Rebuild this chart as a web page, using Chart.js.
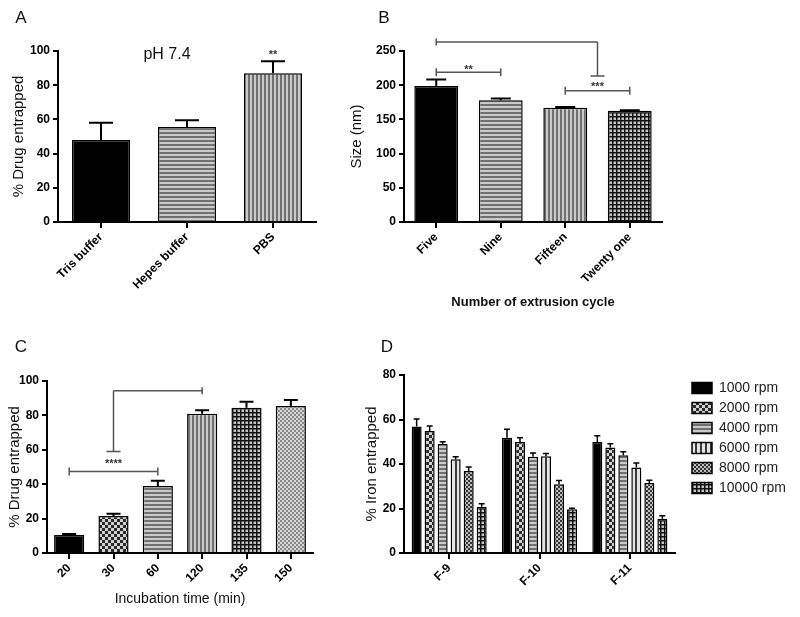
<!DOCTYPE html>
<html><head><meta charset="utf-8">
<script src="https://cdn.jsdelivr.net/npm/chart.js@4.4.1/dist/chart.umd.min.js"></script>
<style>
html,body{margin:0;padding:0;background:#fff;}
#wrap{position:relative;width:800px;height:617px;background:#fff;}
#wrap canvas{position:absolute;left:0;top:0;width:800px;height:617px;}
</style></head><body>
<div id="wrap">
<canvas id="cA" width="800" height="617"></canvas>
<canvas id="cB" width="800" height="617"></canvas>
<canvas id="cC" width="800" height="617"></canvas>
<canvas id="cD" width="800" height="617"></canvas>
</div>
<script>
// ---------- Data ----------
const catsA = ['Tris buffer', 'Hepes buffer', 'PBS'];
const valsA = [48, 55.5, 87];
const errA  = [10, 4, 7];
const ticksA = [0, 20, 40, 60, 80, 100];

const catsB = ['Five', 'Nine', 'Fifteen', 'Twenty one'];
const valsB = [199, 178, 167, 162.5];
const errB  = [9.5, 2.5, 1, 1];
const ticksB = [0, 50, 100, 150, 200, 250];

const catsC = ['20', '30', '60', '120', '135', '150'];
const valsC = [10.5, 21.5, 39, 81, 84.5, 85.5];
const errC  = [0.6, 1.3, 3, 2, 3.5, 3.5];
const ticksC = [0, 20, 40, 60, 80, 100];

const catsD = ['F-9', 'F-10', 'F-11'];
const rpmLabels = ['1000 rpm', '2000 rpm', '4000 rpm', '6000 rpm', '8000 rpm', '10000 rpm'];
const rpm1000  = [56.8, 51.8, 49.9];  const err1000  = [3.4, 3.8, 2.8];
const rpm2000  = [54.8, 49.9, 47.4];  const err2000  = [2.3, 1.9, 1.7];
const rpm4000  = [49.0, 43.3, 43.9];  const err4000  = [1.0, 1.7, 1.6];
const rpm6000  = [42.1, 43.5, 38.4];  const err6000  = [1.2, 1.2, 2.1];
const rpm8000  = [36.8, 30.9, 31.5];  const err8000  = [1.8, 1.7, 1.2];
const rpm10000 = [20.8, 19.7, 15.4];  const err10000 = [1.3, 0.4, 1.3];
const ticksD = [0, 20, 40, 60, 80];

// significance annotations (category index / value units)
const bracketsA = [{ type: 'label', x: 2, labelY: 99.6, label: '**' }];
const bracketsB = [
  { type: 'bar', from: 0, to: 1, y: 219, labelY: 227, label: '**' },
  { type: 'bar', from: 2, to: 3, y: 192, labelY: 202, label: '***' },
  { type: 'drop', from: 0, to: 2.5, y: 263, dropTo: 213.5 }
];
const bracketsC = [
  { type: 'bar', from: 0, to: 2, y: 47.4, labelY: 53.7, label: '****' },
  { type: 'drop', from: 3, to: 1, y: 94.4, dropTo: 59 }
];

// ---------- Helpers ----------
const FONT = "'Liberation Sans', Arial, Helvetica, sans-serif";
Chart.defaults.font.family = FONT;
Chart.defaults.color = '#000';

function pattern(kind) {
  if (kind === 'solid') return '#000';
  const t = document.createElement('canvas');
  const g = t.getContext('2d');
  let s = 4;
  if (kind === 'checker') s = 6;
  if (kind === 'vwide') s = 5;
  t.width = s; t.height = s;
  switch (kind) {
    case 'hstripe':
      g.fillStyle = '#cacaca'; g.fillRect(0, 0, s, s);
      g.fillStyle = '#707070'; g.fillRect(0, 0, s, 2); break;
    case 'vstripe':
      g.fillStyle = '#cacaca'; g.fillRect(0, 0, s, s);
      g.fillStyle = '#707070'; g.fillRect(0, 0, 2, s); break;
    case 'grid':
      g.fillStyle = '#c6c6c6'; g.fillRect(0, 0, s, s);
      g.fillStyle = '#111'; g.fillRect(0, 0, s, 1.5); g.fillRect(0, 0, 1.5, s); break;
    case 'checker':
      g.fillStyle = '#d2d2d2'; g.fillRect(0, 0, s, s);
      g.fillStyle = '#2a2a2a'; g.fillRect(0, 0, 3, 3); g.fillRect(3, 3, 3, 3); break;
    case 'fine':
      g.fillStyle = '#d6d6d6'; g.fillRect(0, 0, s, s);
      g.fillStyle = '#8a8a8a'; g.fillRect(0, 0, 2, 2); g.fillRect(2, 2, 2, 2); break;
    case 'fineDark':
      g.fillStyle = '#c0c0c0'; g.fillRect(0, 0, s, s);
      g.fillStyle = '#333'; g.fillRect(0, 0, 2, 2); g.fillRect(2, 2, 2, 2); break;
    case 'vwide':
      g.fillStyle = '#e4e4e4'; g.fillRect(0, 0, s, s);
      g.fillStyle = '#3a3a3a'; g.fillRect(0, 0, 2, s); break;
  }
  return document.createElement('canvas').getContext('2d').createPattern(t, 'repeat');
}

const tickFont = { family: FONT, size: 12, weight: 'bold' };

function yAxis(max, tickVals, title, width) {
  return {
    min: 0, max: max,
    afterBuildTicks(s) { s.ticks = tickVals.map(v => ({ value: v })); },
    ticks: { color: '#000', font: tickFont, padding: 3 },
    grid: { display: true, drawOnChartArea: false, drawTicks: true, tickLength: 5, color: '#000', lineWidth: 2 },
    border: { display: true, color: '#000', width: 2 },
    title: { display: true, text: title, color: '#111', font: { family: FONT, size: 15 }, padding: 0 },
    afterFit(s) { s.width = width; }
  };
}
function xAxis(height, title) {
  return {
    offset: true,
    ticks: { color: '#000', font: tickFont, minRotation: 45, maxRotation: 45, padding: 2, autoSkip: false },
    grid: { display: true, offset: false, drawOnChartArea: false, drawTicks: true, tickLength: 6, color: '#000', lineWidth: 2 },
    border: { display: true, color: '#000', width: 2 },
    title: title || { display: false },
    afterFit(s) { s.height = height; }
  };
}

const errorBars = {
  id: 'errorBars',
  afterDatasetsDraw(chart, args, opts) {
    const ctx = chart.ctx, ys = chart.scales.y;
    chart.data.datasets.forEach((ds, i) => {
      if (!ds.errors) return;
      const meta = chart.getDatasetMeta(i);
      meta.data.forEach((bar, j) => {
        const v = ds.data[j], e = ds.errors[j];
        const x = bar.x, y0 = ys.getPixelForValue(v), y1 = ys.getPixelForValue(v + e);
        ctx.save();
        ctx.strokeStyle = '#000'; ctx.lineWidth = opts.width || 2;
        ctx.beginPath();
        ctx.moveTo(x, y0); ctx.lineTo(x, y1);
        ctx.moveTo(x - opts.cap, y1); ctx.lineTo(x + opts.cap, y1);
        ctx.stroke(); ctx.restore();
      });
    });
  }
};

const brackets = {
  id: 'brackets',
  afterDraw(chart, args, opts) {
    const list = opts.items || [];
    const ctx = chart.ctx, xs = chart.scales.x, ys = chart.scales.y;
    ctx.save();
    ctx.strokeStyle = '#555'; ctx.lineWidth = 1.5;
    const starSize = 11;
    const drawStar = (x, vy, txt) => {
      ctx.fillStyle = '#333';
      ctx.font = 'bold ' + starSize + 'px ' + FONT;
      ctx.textAlign = 'center'; ctx.textBaseline = 'alphabetic';
      ctx.fillText(txt, x, ys.getPixelForValue(vy) + 0.56 * starSize);
    };
    list.forEach(b => {
      if (b.type === 'label') { drawStar(xs.getPixelForValue(b.x), b.labelY, b.label); return; }
      const x1 = xs.getPixelForValue(b.from), x2 = xs.getPixelForValue(b.to);
      const y = ys.getPixelForValue(b.y);
      ctx.beginPath();
      ctx.moveTo(x1, y); ctx.lineTo(x2, y);
      if (b.type === 'bar') {
        ctx.moveTo(x1, y - 4); ctx.lineTo(x1, y + 4);
        ctx.moveTo(x2, y - 4); ctx.lineTo(x2, y + 4);
      } else {
        const yd = ys.getPixelForValue(b.dropTo);
        ctx.moveTo(x1, y - 3.5); ctx.lineTo(x1, y + 3.5);
        ctx.moveTo(x2, y); ctx.lineTo(x2, yd);
        ctx.moveTo(x2 - 7, yd); ctx.lineTo(x2 + 7, yd);
      }
      ctx.stroke();
      if (b.label) drawStar((x1 + x2) / 2, b.labelY, b.label);
    });
    ctx.restore();
  }
};

const texts = {
  id: 'texts',
  afterDraw(chart, args, opts) {
    const ctx = chart.ctx;
    (opts.items || []).forEach(t => {
      ctx.save();
      ctx.fillStyle = t.color || '#111';
      ctx.font = t.font;
      ctx.textAlign = 'center'; ctx.textBaseline = 'middle';
      ctx.fillText(t.text, t.x, t.y);
      ctx.restore();
    });
  }
};

const LEG_W = 110;
const legendFix = {
  id: 'legendFix',
  beforeLayout(chart) {
    const lg = chart.legend;
    if (lg && !lg._patched) {
      const f = lg.fit;
      lg.fit = function () { f.call(this); this.width = LEG_W; };
      lg._patched = true;
    }
  },
  afterLayout(chart) {
    const lg = chart.legend;
    if (lg) { lg.left += 11; lg.right += 11; }
  }
};

function baseOpts(pad) {
  return {
    responsive: false, animation: false, events: [],
    layout: { padding: pad },
    plugins: { legend: { display: false }, tooltip: { enabled: false } }
  };
}

// ---------- Panel A ----------
const ctxA = document.getElementById('cA').getContext('2d');
const optA = baseOpts({ left: 10, top: 51, right: 484, bottom: 0 });
optA.scales = { x: xAxis(395), y: yAxis(100, ticksA, '% Drug entrapped', 48) };
optA.plugins.errorBars = { cap: 12 };
optA.plugins.brackets = { items: bracketsA };
optA.plugins.texts = { items: [
  { text: 'A', x: 21, y: 18, font: '17px ' + FONT },
  { text: 'pH 7.4', x: 167, y: 55, font: '16px ' + FONT }
] };
new Chart(ctxA, {
  type: 'bar',
  data: { labels: catsA, datasets: [{
    data: valsA, errors: errA,
    backgroundColor: ['solid', 'hstripe', 'vstripe'].map(pattern),
    borderColor: '#000', borderWidth: 1.5,
    categoryPercentage: 1, barPercentage: 0.675
  }] },
  options: optA,
  plugins: [errorBars, brackets, texts]
});

// ---------- Panel B ----------
const ctxB = document.getElementById('cB').getContext('2d');
const optB = baseOpts({ left: 348, top: 51, right: 138, bottom: 307 });
optB.scales = {
  x: xAxis(88, { display: true, text: 'Number of extrusion cycle', color: '#111', font: { family: FONT, size: 13, weight: 'bold' }, padding: 0 }),
  y: yAxis(250, ticksB, 'Size (nm)', 56)
};
optB.plugins.errorBars = { cap: 10 };
optB.plugins.brackets = { items: bracketsB };
optB.plugins.texts = { items: [{ text: 'B', x: 384, y: 18, font: '17px ' + FONT }] };
new Chart(ctxB, {
  type: 'bar',
  data: { labels: catsB, datasets: [{
    data: valsB, errors: errB,
    backgroundColor: ['solid', 'hstripe', 'vstripe', 'grid'].map(pattern),
    borderColor: '#000', borderWidth: 1.5,
    categoryPercentage: 1, barPercentage: 0.68
  }] },
  options: optB,
  plugins: [errorBars, brackets, texts]
});

// ---------- Panel C ----------
const ctxC = document.getElementById('cC').getContext('2d');
const optC = baseOpts({ left: 6, top: 381, right: 487, bottom: 9 });
optC.scales = {
  x: xAxis(55, { display: true, text: 'Incubation time (min)', color: '#111', font: { family: FONT, size: 14 }, padding: 0 }),
  y: yAxis(100, ticksC, '% Drug entrapped', 41)
};
optC.plugins.errorBars = { cap: 7 };
optC.plugins.brackets = { items: bracketsC };
optC.plugins.texts = { items: [{ text: 'C', x: 21, y: 347, font: '17px ' + FONT }] };
new Chart(ctxC, {
  type: 'bar',
  data: { labels: catsC, datasets: [{
    data: valsC, errors: errC,
    backgroundColor: ['solid', 'checker', 'hstripe', 'vstripe', 'grid', 'fine'].map(pattern),
    borderColor: '#000', borderWidth: 1.5,
    categoryPercentage: 1, barPercentage: 0.68
  }] },
  options: optC,
  plugins: [errorBars, brackets, texts]
});

// ---------- Panel D ----------
const ctxD = document.getElementById('cD').getContext('2d');
const optD = baseOpts({ left: 363, top: 375, right: 800 - 675 - LEG_W, bottom: 0 });
optD.scales = { x: xAxis(64), y: yAxis(80, ticksD, '% Iron entrapped', 41) };
optD.plugins.errorBars = { cap: 3, width: 1.5 };
optD.plugins.texts = { items: [{ text: 'D', x: 387, y: 347, font: '17px ' + FONT }] };
optD.plugins.legend = {
  display: true, position: 'right', align: 'start', fullSize: false,
  labels: { boxWidth: 20, boxHeight: 11, padding: 6, color: '#222', font: { family: FONT, size: 14 } }
};
const dValues = [rpm1000, rpm2000, rpm4000, rpm6000, rpm8000, rpm10000];
const dErrors = [err1000, err2000, err4000, err6000, err8000, err10000];
const dKinds = ['solid', 'checker', 'hstripe', 'vwide', 'fineDark', 'grid'];
new Chart(ctxD, {
  type: 'bar',
  data: { labels: catsD, datasets: rpmLabels.map((lab, i) => ({
    label: lab, data: dValues[i], errors: dErrors[i],
    backgroundColor: pattern(dKinds[i]),
    borderColor: '#000', borderWidth: 1.5,
    categoryPercentage: 0.864, barPercentage: 0.77
  })) },
  options: optD,
  plugins: [errorBars, texts, legendFix]
});
</script>
</body></html>
